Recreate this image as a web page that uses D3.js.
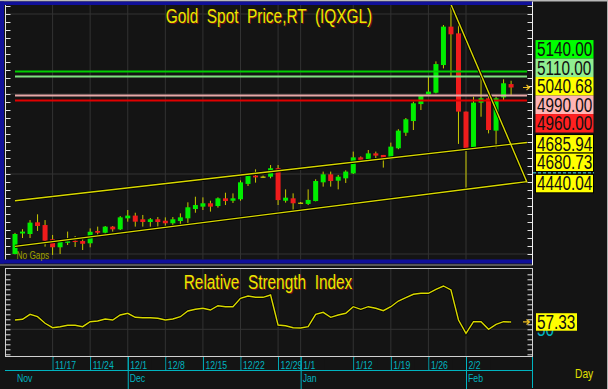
<!DOCTYPE html>
<html>
<head>
<meta charset="utf-8">
<script src="https://cdn.jsdelivr.net/npm/d3@7"></script>
<style>
  html, body { margin: 0; padding: 0; background: #141414; }
  svg { display: block; }
  text { font-family: "Liberation Sans", Arial, sans-serif; }
</style>
</head>
<body>
<div id="chart"></div>
<script>
// ---- data (daily bars, 11/10 .. 2/10) ----
const opens  = [4000,4128,4125,4198,4181,4092,4042,4070,4083,4081,4067,4144,4133,4171,4154,4223,4240,4217,4200,4217,
                4208,4192,4206,4223,4281,4296,4317,4300,4348,4333,4342,4438,4490,4484,4483,4536,4333,4348,4321,4313,
                4331,4448,4498,4458,4473,4504,4604,4588,4629,4619,4592,4661,4758,4831,4937,4998,5008,5181,5421,5379,
                4890,4667,4946,4973,4771,4979,5062];
const highs  = [4132,4155,4212,4248,4212,4119,4087,4140,4112,4104,4160,4171,4175,4175,4237,4275,4258,4244,4225,4231,
                4229,4231,4254,4323,4358,4354,4333,4354,4383,4379,4460,4506,4529,4490,4556,4556,4404,4379,4325,4404,
                4467,4515,4515,4494,4523,4640,4610,4650,4640,4619,4696,4780,4850,4952,4994,5108,5204,5431,5600,5452,
                4890,4983,5104,5021,4983,5092,5083];
const lows   = [3998,4100,4100,4144,4046,3994,4000,4056,4044,4025,4042,4112,4125,4140,4150,4202,4171,4171,4171,4171,
                4171,4167,4181,4190,4258,4275,4265,4290,4306,4319,4333,4425,4446,4478,4473,4306,4321,4275,4317,4306,
                4329,4421,4421,4404,4444,4500,4573,4581,4596,4540,4588,4655,4738,4775,4900,4998,5004,5160,5112,4688,
                4400,4660,4858,4754,4661,4962,4994];
const closes = [4125,4140,4196,4175,4083,4042,4081,4080,4075,4064,4139,4133,4171,4154,4229,4240,4202,4200,4217,4200,
                4192,4217,4229,4292,4306,4317,4296,4348,4331,4348,4448,4490,4479,4484,4536,4337,4352,4317,4321,4338,
                4456,4498,4456,4483,4515,4604,4588,4629,4615,4598,4671,4771,4842,4942,4987,5015,5187,5421,5373,4890,
                4661,4946,4973,4775,4973,5067,5040.68];
const rsi    = [59.3,60,65,62.6,56,51.6,52.6,54,54,52.6,57.6,58.3,60.3,59.3,64.3,66,62,61.6,61.6,61,
                59.3,60.3,62.6,68.3,70,71,69.3,73.6,72.6,72.6,81,83.3,82,82,84.3,54.3,53.6,51.6,51.3,52.6,
                65,67,62,64.3,66,72.6,70,72.6,71,68.6,72.6,78.3,81.6,85,86,86,90,93.3,89.3,59.3,
                46,57.6,57.6,50,55,57.6,57.33];

const weekIdx    = [5, 10, 15, 20, 25, 30, 35, 38, 45, 50, 55, 60];
const weekLabels = ['11/17','11/24','12/1','12/8','12/15','12/22','12/29','1/1','1/12','1/19','1/26','2/2'];
const monthIdx    = [0, 15, 38, 60];
const monthLabels = ['Nov','Dec','Jan','Feb'];

const levelValues = [5140, 5110, 4990, 4960];
// [bar0, price0, bar1, price1]
const trendLines = [[0, 4333, 66, 4685.94], [0, 4048, 66, 4440.04], [58, 5560, 66, 4680.73]];

// ---- styles ----
const W = 608, H = 389;
const SX = 0.79;              // the terminal font is a narrow one
const BG = '#141414';
const GRID = '#323232';
const YEL = '#d8d800';
const CYAN = '#00b4c0';
const levelLine = ['#00d000', '#80e080', '#e8a8a8', '#e00000'];
const levelBox  = ['#00ff00', '#90ee90', '#ffb4b4', '#ff2020'];

const svg = d3.select('#chart').append('svg').attr('width', W).attr('height', H);
svg.append('rect').attr('width', W).attr('height', H).attr('fill', BG);

function ntext(sel, x, y, str, size, fill, anchor) {
  return sel.append('text')
    .attr('transform', `translate(${x},${y}) scale(${SX},1)`)
    .attr('font-size', size)
    .attr('fill', fill)
    .attr('text-anchor', anchor || 'start')
    .style('white-space', 'pre')
    .text(str);
}

// scales
const x = d3.scaleLinear().domain([0, 60]).range([15, 466]);
const y = d3.scaleLinear().domain([4000, 5500]).range([254, 14]);
const ry = d3.scaleLinear().domain([50, 100]).range([329.3, 279.3]);
const xEnd = x.invert(527);

// ---- frames ----
svg.append('rect').attr('x', 0).attr('y', 0).attr('width', W).attr('height', 1.5).attr('fill', '#b8b8b8');
svg.append('rect').attr('x', 0).attr('y', 1.5).attr('width', 533).attr('height', 3.5).attr('fill', '#10109a');
svg.append('rect').attr('x', 0).attr('y', 1.5).attr('width', 4).attr('height', 262).attr('fill', '#10109a');
svg.append('rect').attr('x', 0).attr('y', 259.5).attr('width', 533).attr('height', 4).attr('fill', '#10109a');
svg.append('line').attr('x1', 0).attr('x2', 533).attr('y1', 265).attr('y2', 265).attr('stroke', '#9a9a9a');
svg.append('line').attr('x1', 607.5).attr('x2', 607.5).attr('y1', 0).attr('y2', H).attr('stroke', '#b0b0b0');

// ---- price panel ----
const clip = svg.append('defs').append('clipPath').attr('id', 'pclip');
clip.append('rect').attr('x', 5).attr('y', 5).attr('width', 527).attr('height', 254.5);

const $grid = svg.append('g');
$grid.selectAll('.vg').data(weekIdx).join('line')
  .attr('x1', d => x(d)).attr('x2', d => x(d)).attr('y1', 5).attr('y2', 259.5)
  .attr('stroke', GRID);
$grid.selectAll('.hg').data([4000, 4500, 5000, 5500]).join('line')
  .attr('x1', 5).attr('x2', 532).attr('y1', d => y(d)).attr('y2', d => y(d))
  .attr('stroke', GRID);

ntext(svg, 16.5, 259, 'No Gaps', 10.5, '#a0a000');

const $vis = svg.append('g').attr('clip-path', 'url(#pclip)');
const idx = d3.range(closes.length);
$vis.selectAll('.wick').data(idx).join('line')
  .attr('x1', i => x(i)).attr('x2', i => x(i))
  .attr('y1', i => y(highs[i])).attr('y2', i => y(lows[i]))
  .attr('stroke', '#c8c800').attr('stroke-width', 1);
$vis.selectAll('.body').data(idx).join('rect')
  .attr('x', i => x(i) - 2.5).attr('width', 5)
  .attr('y', i => y(Math.max(opens[i], closes[i])))
  .attr('height', i => Math.max(1.2, Math.abs(y(opens[i]) - y(closes[i]))))
  .attr('fill', i => closes[i] > opens[i] ? '#00ee00' : closes[i] < opens[i] ? '#f01c1c' : '#d8d800');

// horizontal levels
$vis.selectAll('.lvl').data(levelValues).join('line')
  .attr('x1', 15).attr('x2', 527)
  .attr('y1', d => y(d)).attr('y2', d => y(d))
  .attr('stroke', (d, i) => levelLine[i]).attr('stroke-width', 2);

// channel and trend lines
const tl = trendLines.map(([i0, p0, i1, p1]) => {
  const s = (p1 - p0) / (i1 - i0);
  return [[i0, p0], [xEnd, p0 + s * (xEnd - i0)]];
});
const tline = d3.line().x(d => x(d[0])).y(d => y(d[1]));
$vis.selectAll('.tls').data(tl).join('path')
  .attr('d', tline).attr('fill', 'none').attr('stroke', '#000').attr('stroke-width', 3.2);
$vis.selectAll('.tlc').data(tl).join('path')
  .attr('d', tline).attr('fill', 'none').attr('stroke', YEL).attr('stroke-width', 1.4);

// title
ntext(svg, 269.8, 24.1, 'Gold  Spot  Price,RT  (IQXGL)', 19.5, '#7a1010', 'middle');
ntext(svg, 269, 23.3, 'Gold  Spot  Price,RT  (IQXGL)', 19.5, '#e8e800', 'middle');

// axes of price panel
const yTicks = d3.range(4000, 5551, 50);
const $yl = svg.append('g').attr('transform', 'translate(5.5,0)')
  .call(d3.axisRight(y).tickValues(yTicks).tickSize(5).tickFormat(''));
const $yr = svg.append('g').attr('transform', 'translate(532.5,0)')
  .call(d3.axisLeft(y).tickValues(yTicks).tickSize(5).tickFormat(''));
[$yl, $yr].forEach(g => { g.select('.domain').remove(); g.selectAll('line').attr('stroke', '#e0e0e0'); });
svg.append('line').attr('x1', 5.5).attr('x2', 5.5).attr('y1', 5).attr('y2', 259.5).attr('stroke', '#e0e0e0');
svg.append('line').attr('x1', 532.5).attr('x2', 532.5).attr('y1', 1.5).attr('y2', 265).attr('stroke', '#f0f0f0');

// last price arrow
function arrow(yy) {
  svg.append('path')
    .attr('d', `M523,${yy}L529.5,${yy}M526.5,${yy - 2.5}L529.5,${yy}L526.5,${yy + 2.5}`)
    .attr('fill', 'none').attr('stroke', '#f0c020').attr('stroke-width', 1.2);
}
arrow(y(closes[closes.length - 1]));

// value labels at right, stacked so they do not overlap
const BH = 18.5;
const labels = [];
levelValues.forEach((v, i) => labels.push({ v, fill: levelBox[i], line: false }));
labels.push({ v: closes[closes.length - 1], fill: '#ffff00', line: false });
trendLines.forEach(t => labels.push({ v: t[3], fill: '#ffff00', line: true }));
labels.forEach(d => { d.y = y(d.v); });
labels.sort((a, b) => a.y - b.y);
const groups = [];
labels.forEach(d => {
  const g = groups[groups.length - 1];
  if (g && d.y - g[g.length - 1].y < BH) g.push(d); else groups.push([d]);
});
groups.forEach(g => {
  const c = d3.mean(g, d => d.y);
  g.forEach((d, k) => { d.top = c - g.length * BH / 2 + k * BH; d.g = g; });
});
for (let k = 1; k < labels.length; k++) {
  const p = labels[k - 1], d = labels[k];
  const minTop = p.top + BH + (p.g === d.g ? 0 : 2);
  if (d.top < minTop) d.top = minTop;
}
const $lab = svg.append('g');
$lab.selectAll('rect').data(labels).join('rect')
  .attr('x', 535.5).attr('y', d => d.top).attr('width', 58).attr('height', BH)
  .attr('fill', d => d.fill)
  .attr('stroke', d => d.line ? '#000' : 'none');
labels.forEach(d => ntext($lab, 537, d.top + 16, d.v.toFixed(2), 19.4, '#101010'));
const last = labels[labels.length - 1];
svg.append('line').attr('x1', 533).attr('x2', 594).attr('y1', last.top - 1.5).attr('y2', last.top - 1.5)
  .attr('stroke', '#40e0f0').attr('stroke-dasharray', '3,2');

// ---- RSI panel ----
const $r = svg.append('g');
$r.selectAll('.vg').data(weekIdx).join('line')
  .attr('x1', d => x(d)).attr('x2', d => x(d)).attr('y1', 269).attr('y2', 356.5)
  .attr('stroke', GRID);
$r.append('line').attr('x1', 5.5).attr('x2', 532.5).attr('y1', ry(50)).attr('y2', ry(50)).attr('stroke', GRID);
$r.append('rect').attr('x', 5.5).attr('y', 268.5).attr('width', 527).attr('height', 88)
  .attr('fill', 'none').attr('stroke', '#d0d0d0');

const rTicks = d3.range(25, 106, 5);
const $rl = $r.append('g').attr('transform', 'translate(5.5,0)')
  .call(d3.axisRight(ry).tickValues(rTicks).tickSize(5).tickFormat(''));
const $rr = $r.append('g').attr('transform', 'translate(532.5,0)')
  .call(d3.axisLeft(ry).tickValues(rTicks).tickSize(5).tickFormat(''));
[$rl, $rr].forEach(g => { g.select('.domain').remove(); g.selectAll('line').attr('stroke', '#e0e0e0'); });

const rline = d3.line().x((d, i) => x(i)).y(d => ry(d));
$r.append('path').datum(rsi).attr('d', rline).attr('fill', 'none').attr('stroke', '#000').attr('stroke-width', 3);
$r.append('path').datum(rsi).attr('d', rline).attr('fill', 'none').attr('stroke', YEL).attr('stroke-width', 1.4);

ntext($r, 268.8, 290.1, 'Relative  Strength  Index', 19.5, '#7a1010', 'middle');
ntext($r, 268, 289.3, 'Relative  Strength  Index', 19.5, '#e8e800', 'middle');

const rLast = rsi[rsi.length - 1];
arrow(ry(rLast));
ntext($r, 537, ry(50) + 7, '50', 19.4, CYAN);
$r.append('rect').attr('x', 536).attr('y', ry(rLast) - 8.75).attr('width', 41).attr('height', 17.5).attr('fill', '#ffff00');
ntext($r, 537, ry(rLast) + 7, rLast.toFixed(2), 19.4, '#101010');

// ---- date axis ----
const $xa = svg.append('g').attr('transform', 'translate(0,357)')
  .call(d3.axisBottom(x).tickValues(weekIdx).tickSize(13).tickFormat((d, i) => weekLabels[i]));
$xa.select('.domain').remove();
$xa.selectAll('line').attr('stroke', CYAN);
$xa.selectAll('.tick').insert('rect', 'text')
  .attr('x', 0.6).attr('y', 1).attr('width', 23).attr('height', 11.5).attr('fill', BG);
$xa.selectAll('text')
  .attr('x', null).attr('y', null).attr('dy', null)
  .attr('transform', `translate(2,11.5) scale(${SX},1)`)
  .attr('text-anchor', 'start').attr('font-size', 11).attr('fill', CYAN)
  .attr('font-family', '"Liberation Sans", Arial, sans-serif');

svg.append('line').attr('x1', 5).attr('x2', 533).attr('y1', 370.5).attr('y2', 370.5).attr('stroke', CYAN);
svg.append('line').attr('x1', 532.5).attr('x2', 532.5).attr('y1', 357).attr('y2', 388).attr('stroke', CYAN);

const $ma = svg.append('g').attr('transform', 'translate(0,357)')
  .call(d3.axisBottom(x).tickValues(monthIdx).tickSize(32).tickFormat((d, i) => monthLabels[i]));
$ma.select('.domain').remove();
$ma.selectAll('line').attr('stroke', (d, i) => i === 0 ? 'none' : CYAN);
$ma.selectAll('text')
  .attr('x', null).attr('y', null).attr('dy', null)
  .attr('transform', `translate(1.5,25) scale(${SX},1)`)
  .attr('text-anchor', 'start').attr('font-size', 11).attr('fill', CYAN)
  .attr('font-family', '"Liberation Sans", Arial, sans-serif');

ntext(svg, 575, 378, 'Day', 13, '#e0e000');
</script>
</body>
</html>
